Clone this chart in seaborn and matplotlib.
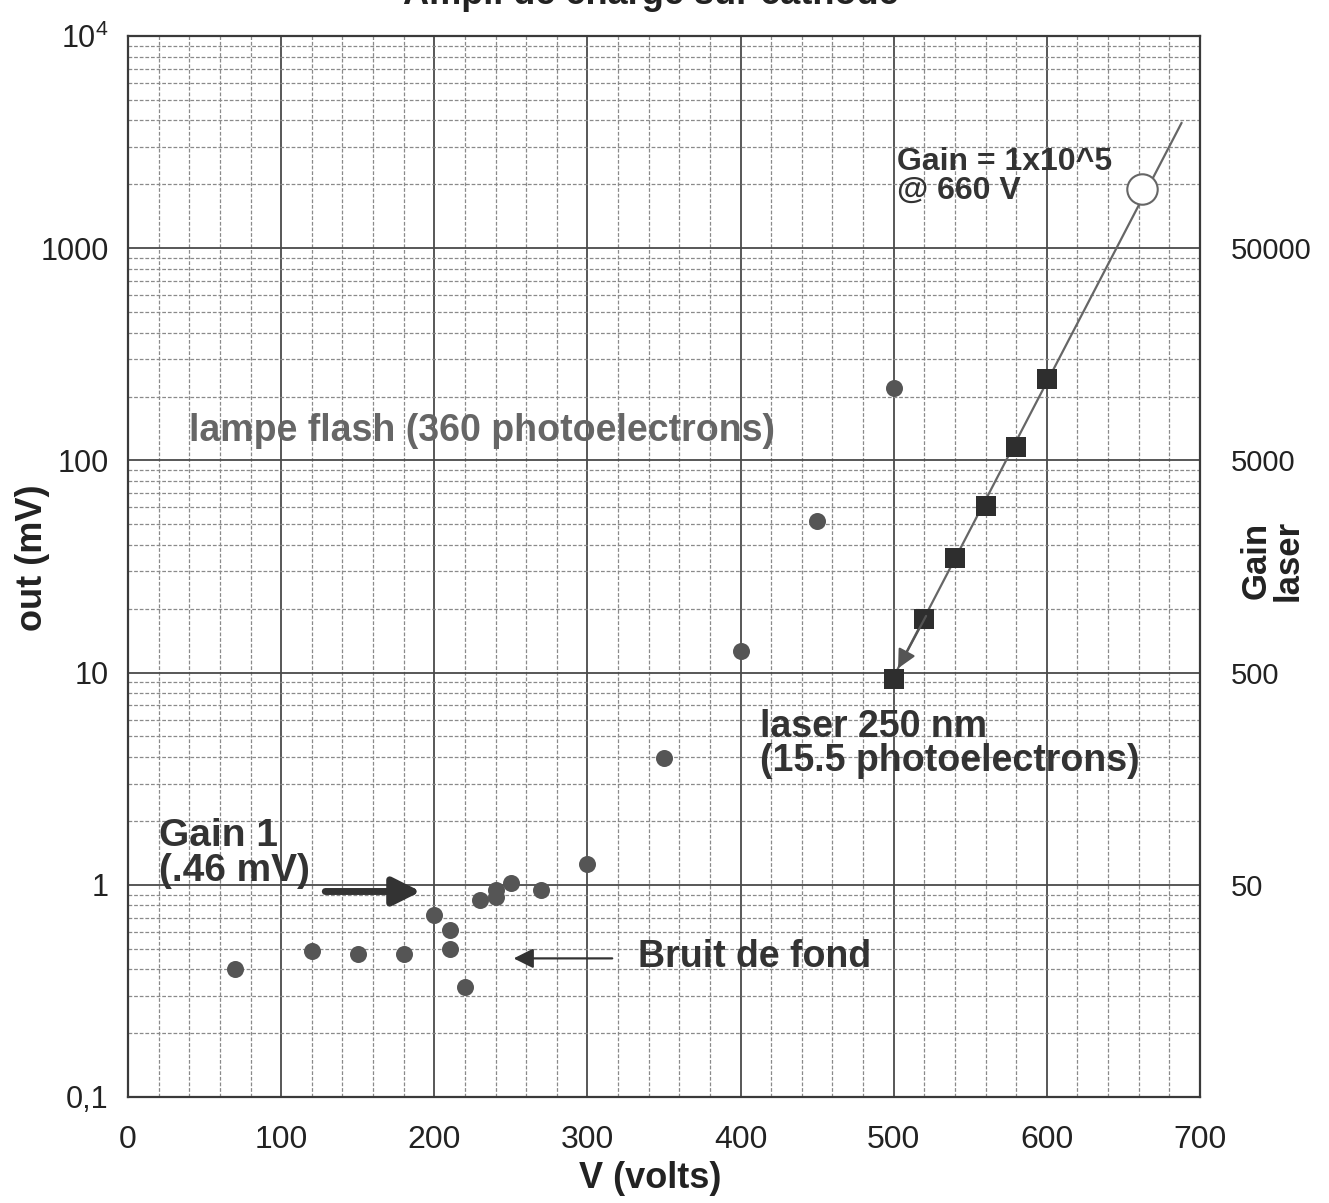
import matplotlib
matplotlib.use("Agg")
import matplotlib.pyplot as plt
from matplotlib.ticker import LogLocator, MultipleLocator, FixedLocator, NullFormatter
import seaborn as sns
import pandas as pd

# ---- data ----
noise_v = [70, 120, 150, 180, 200, 210, 210, 220, 230, 240, 240, 250, 270, 300, 350, 400, 450, 500]
noise_mv = [0.40, 0.49, 0.47, 0.47, 0.72, 0.61, 0.50, 0.33, 0.85, 0.88, 0.95, 1.02, 0.95, 1.26, 3.97, 12.6, 51.6, 220]

laser_v = [500, 520, 540, 560, 580, 600]
laser_mv = [9.3, 17.8, 34.6, 61.3, 115.7, 242.6]

fit_v = [502, 688]
fit_mv = [10.2, 3900]

gain_point_v = [662]
gain_point_mv = [1900]

left_ticks = [0.1, 1, 10, 100, 1000, 10000]
left_labels = ["0,1", "1", "10", "100", "1000", r"$10^4$"]
right_ticks = [50, 500, 5000, 50000]
right_labels = ["50", "500", "5000", "50000"]
x_ticks = [0, 100, 200, 300, 400, 500, 600, 700]

sns.set_theme(style="white")
plt.rcParams["font.family"] = ["Liberation Sans", "DejaVu Sans"]
plt.rcParams["mathtext.fontset"] = "custom"
plt.rcParams["mathtext.rm"] = "Liberation Sans"
narrow = ["Liberation Sans Narrow", "Liberation Sans", "DejaVu Sans"]

fig = plt.figure(figsize=(13.29, 12.03), dpi=100)
ax = fig.add_axes([128 / 1329, 1 - 1097 / 1203, (1200 - 128) / 1329, (1097 - 36) / 1203])

ax.set_yscale("log")
ax.set_xlim(0, 700)
ax.set_ylim(0.1, 10000)

# grid like graph paper
ax.xaxis.set_major_locator(FixedLocator(x_ticks))
ax.xaxis.set_minor_locator(MultipleLocator(20))
ax.yaxis.set_major_locator(FixedLocator(left_ticks))
ax.yaxis.set_minor_locator(LogLocator(base=10, subs=[2, 3, 4, 5, 6, 7, 8, 9]))
ax.yaxis.set_minor_formatter(NullFormatter())
ax.grid(which="major", color="#4a4a4a", lw=1.3, ls="-")
ax.grid(which="minor", color="#8a8a8a", lw=0.9, ls=(0, (3, 1.5)))
ax.set_axisbelow(True)

for s in ax.spines.values():
    s.set_color("#3a3a3a")
    s.set_linewidth(1.6)

# data
df_noise = pd.DataFrame({"V": noise_v, "mV": noise_mv})
df_laser = pd.DataFrame({"V": laser_v, "mV": laser_mv})
df_fit = pd.DataFrame({"V": fit_v, "mV": fit_mv})
df_gain = pd.DataFrame({"V": gain_point_v, "mV": gain_point_mv})

sns.lineplot(data=df_fit, x="V", y="mV", ax=ax, color="#666666", lw=1.6, zorder=3)
sns.scatterplot(data=df_noise, x="V", y="mV", ax=ax, color="#555555", s=150,
                edgecolor="#555555", linewidth=0, zorder=4)
sns.scatterplot(data=df_laser, x="V", y="mV", ax=ax, color="#2e2e2e", marker="s", s=190,
                edgecolor="#2e2e2e", linewidth=0, zorder=4)
sns.scatterplot(data=df_gain, x="V", y="mV", ax=ax, color="white", s=480,
                edgecolor="#666666", linewidth=1.5, zorder=5)

# arrowhead on the fit line toward the 500 V square
ax.annotate("", xy=(fit_v[0], fit_mv[0]), xytext=(522, 19),
            arrowprops=dict(arrowstyle="-|>", color="#555555", lw=1.6, mutation_scale=28),
            zorder=5)

ax.set_xlabel("")
ax.set_ylabel("")
fig.text(650 / 1329, 1 - 1178 / 1203, "V (volts)", ha="center", va="center",
         fontsize=26, fontweight="bold", color="#222222")
fig.text(32 / 1329, 1 - 558 / 1203, "out (mV)", ha="center", va="center", rotation=90,
         fontsize=26, fontweight="bold", color="#222222")
fig.text(1272 / 1329, 1 - 560 / 1203, "Gain\nlaser", ha="center", va="center", rotation=90,
         fontsize=25, fontweight="bold", color="#222222", linespacing=0.95)

ax.set_xticks(x_ticks)
ax.set_xticklabels([str(t) for t in x_ticks], family=narrow)
ax.set_yticks(left_ticks)
ax.set_yticklabels(left_labels, family=narrow)
ax.tick_params(axis="x", which="major", length=0, pad=20, labelsize=23, labelcolor="#222222")
ax.tick_params(axis="y", which="major", length=0, pad=14, labelsize=22, labelcolor="#222222")
ax.tick_params(which="minor", length=0)

sec = ax.secondary_yaxis("right", functions=(lambda y: y * 50, lambda y: y / 50))
sec.set_yticks(right_ticks)
sec.set_yticklabels(right_labels, family=narrow)
sec.yaxis.set_minor_locator(FixedLocator([]))
sec.tick_params(axis="y", length=0, pad=22, labelsize=21, labelcolor="#222222")
sec.spines["right"].set_visible(False)

# annotations
txt = dict(fontweight="bold", color="#333333", fontsize=27)
ax.text(20, 1.4, "Gain 1\n(.46 mV)", va="center", ha="left", linespacing=0.95,
        fontweight="bold", color="#333333", fontsize=28)
ax.annotate("", xy=(193, 0.93), xytext=(127, 0.93),
            arrowprops=dict(arrowstyle="-|>", color="#333333", lw=5, mutation_scale=42))
ax.text(333, 0.457, "Bruit de fond", va="center", ha="left", **txt)
ax.annotate("", xy=(250, 0.45), xytext=(318, 0.45),
            arrowprops=dict(arrowstyle="-|>", color="#333333", lw=1.6, mutation_scale=30))
ax.text(40, 137, "lampe flash (360 photoelectrons)", va="center", ha="left",
        fontweight="bold", color="#666666", fontsize=27)
ax.text(413, 4.6, "laser 250 nm\n(15.5 photoelectrons)", va="center", ha="left",
        linespacing=0.95, **txt)
ax.text(502, 2185, "Gain = 1x10^5\n@ 660 V", va="center", ha="left",
        linespacing=0.95, fontweight="bold", color="#333333", fontsize=23)

# title: cut off at the top edge, as in the scanned original
fig.text(0.49, 1 - 4 / 1203, "Ampli de charge sur cathode", ha="center", va="baseline",
         fontsize=26, fontweight="bold", color="#222222")

fig.savefig("out.png", dpi=100)
